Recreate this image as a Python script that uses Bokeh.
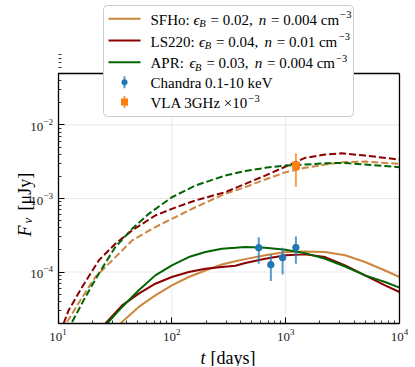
import math
from bokeh.plotting import figure
from bokeh.models import Range1d, FixedTicker, Label, BoxAnnotation
from bokeh.embed import file_html
from bokeh.resources import INLINE

# ---------------- data ----------------
# SFHo (orange): X-ray (solid) and radio x1e-3 (dashed)
t_sfho_x = [35.3, 51.2, 71.6, 100, 141, 197, 275, 361, 442, 661, 1000, 1480, 2220, 3330, 4980, 7460, 10000]
f_sfho_x = [2.0e-5, 3.36e-5, 4.83e-5, 6.61e-5, 8.57e-5, 1.05e-4, 1.27e-4, 1.40e-4, 1.50e-4, 1.69e-4,
            1.87e-4, 1.91e-4, 1.87e-4, 1.69e-4, 1.37e-4, 1.05e-4, 8.57e-5]
t_sfho_r = [12.0, 15.7, 21.3, 29.9, 44.8, 71.6, 100, 161, 294, 442, 661, 1000, 1480, 2220, 3110, 4980, 10000]
f_sfho_r = [2.10e-5, 4.13e-5, 8.57e-5, 1.44e-4, 2.69e-4, 4.08e-4, 5.30e-4, 7.6e-4, 1.16e-3, 1.43e-3,
            1.81e-3, 2.28e-3, 2.61e-3, 2.89e-3, 3.11e-3, 3.18e-3, 2.95e-3]

# LS220 (dark red)
t_ls_x = [26.1, 36.6, 51.2, 71.6, 100, 141, 197, 275, 361, 442, 661, 1000, 1480, 2220, 3330, 4980, 7460, 10000]
f_ls_x = [2.0e-5, 3.53e-5, 5.09e-5, 6.95e-5, 8.57e-5, 1.00e-4, 1.11e-4, 1.17e-4, 1.22e-4, 1.33e-4,
          1.52e-4, 1.69e-4, 1.74e-4, 1.60e-4, 1.23e-4, 9.02e-5, 6.61e-5, 5.36e-5]
t_ls_r = [11.2, 12.4, 16.3, 22.8, 31.9, 44.8, 71.6, 100, 161, 294, 442, 661, 1000, 1480, 2220, 3110, 4980, 10000]
f_ls_r = [2.0e-5, 3.02e-5, 6.27e-5, 1.44e-4, 2.43e-4, 3.68e-4, 5.88e-4, 7.24e-4, 9.40e-4, 1.22e-3,
          1.58e-3, 2.05e-3, 2.72e-3, 3.57e-3, 3.95e-3, 4.12e-3, 3.83e-3, 3.38e-3]

# APR (dark green)
t_apr_x = [27.0, 36.6, 51.2, 71.6, 100, 141, 197, 275, 361, 442, 661, 1000, 1480, 2220, 3330, 4980, 7460, 10000]
f_apr_x = [2.0e-5, 3.36e-5, 5.65e-5, 9.02e-5, 1.23e-4, 1.60e-4, 1.87e-4, 2.08e-4, 2.14e-4, 2.19e-4,
           2.14e-4, 2.01e-4, 1.81e-4, 1.52e-4, 1.19e-4, 9.02e-5, 7.33e-5, 6.14e-5]
t_apr_r = [13.3, 17.4, 22.8, 31.9, 44.8, 62.7, 100, 161, 294, 442, 661, 1000, 1480, 2220, 3110, 4980, 10000]
f_apr_r = [2.10e-5, 4.58e-5, 9.51e-5, 2.19e-4, 3.87e-4, 6.19e-4, 1.04e-3, 1.50e-3, 2.05e-3, 2.36e-3,
           2.61e-3, 2.81e-3, 2.89e-3, 3.01e-3, 3.05e-3, 2.89e-3, 2.66e-3]

# Observations
t_chandra = [580, 741, 940, 1230]
f_chandra = [2.14e-4, 1.26e-4, 1.57e-4, 2.16e-4]
lo_chandra = [1.30e-4, 7.55e-5, 9.3e-5, 1.30e-4]
hi_chandra = [2.98e-4, 1.74e-4, 2.14e-4, 3.05e-4]

t_vla = [1230]
f_vla = [2.8e-3]
lo_vla = [1.43e-3]
hi_vla = [4.12e-3]

# axis limits and ticks
X_MIN, X_MAX = 10, 1e4
Y_MIN, Y_MAX = 2e-5, 5e-2
x_ticks = [10, 100, 1000, 10000]
y_ticks = [1e-4, 1e-3, 1e-2]

C_SFHO = "#cd853f"
C_LS = "#8b0000"
C_APR = "#006400"
C_CH = "#1f77b4"
C_VLA = "#ff7f0e"
FONT = "Liberation Serif"

# ---------------- layout: the frame covers the whole canvas, the visible "axes box" sits inside ----------------
W, H = 414, 366
FL, FR, FT, FB = 57.5, 399.0, 73.0, 323.0   # visible axes box in canvas pixels
ppd_x = (FR - FL) / math.log10(X_MAX / X_MIN)
ppd_y = (FB - FT) / math.log10(Y_MAX / Y_MIN)
x_start = X_MIN / 10 ** (FL / ppd_x)
x_end = X_MAX * 10 ** ((W - FR) / ppd_x)
y_start = Y_MIN / 10 ** ((H - FB) / ppd_y)
y_end = Y_MAX * 10 ** (FT / ppd_y)

p = figure(width=W, height=H, x_axis_type="log", y_axis_type="log",
           x_range=Range1d(x_start, x_end), y_range=Range1d(y_start, y_end),
           output_backend="svg", toolbar_location=None,
           min_border_left=0, min_border_right=0, min_border_top=0, min_border_bottom=0)
p.background_fill_color = "white"
p.border_fill_color = "white"
p.outline_line_color = None
p.xgrid.visible = False
p.ygrid.visible = False

xa = p.xaxis[0]
ya = p.yaxis[0]
xa.fixed_location = Y_MIN
ya.fixed_location = X_MIN
xa.bounds = (X_MIN, X_MAX)
ya.bounds = (Y_MIN, Y_MAX)
xa.ticker = FixedTicker(ticks=x_ticks,
                        minor_ticks=[m * 10.0 ** e for e in range(1, 4) for m in range(2, 10)])
ya.ticker = FixedTicker(ticks=y_ticks,
                        minor_ticks=[m * 10.0 ** e for e in range(-5, -1) for m in range(2, 10)])
for ax in (xa, ya):
    ax.axis_line_color = "black"
    ax.axis_line_width = 1.3
    ax.major_tick_in = 6
    ax.major_tick_out = 0
    ax.minor_tick_in = 3
    ax.minor_tick_out = 0
    ax.major_tick_line_color = "black"
    ax.minor_tick_line_color = "black"
    ax.major_tick_line_width = 1
    ax.minor_tick_line_width = 0.8
    ax.major_label_text_font = FONT
    ax.major_label_text_font_size = "13px"
    ax.major_label_text_color = "#222222"
    ax.major_label_standoff = 5

# grid lines at the inner major ticks, limited to the axes box
gx = x_ticks[1:-1]
p.segment(x0=gx, y0=[Y_MIN] * len(gx), x1=gx, y1=[Y_MAX] * len(gx),
          line_color="#c8c8c8", line_width=0.8, line_dash="1 1")
p.segment(x0=[X_MIN] * len(y_ticks), y0=y_ticks, x1=[X_MAX] * len(y_ticks), y1=y_ticks,
          line_color="#c8c8c8", line_width=0.8, line_dash="1 1")

# ---------------- curves ----------------
LW = 2
DASH = "7 3"
p.line(t_sfho_x, f_sfho_x, color=C_SFHO, line_width=LW)
p.line(t_sfho_r, f_sfho_r, color=C_SFHO, line_width=LW, line_dash=DASH)
p.line(t_ls_x, f_ls_x, color=C_LS, line_width=LW)
p.line(t_ls_r, f_ls_r, color=C_LS, line_width=LW, line_dash=DASH)
p.line(t_apr_x, f_apr_x, color=C_APR, line_width=LW)
p.line(t_apr_r, f_apr_r, color=C_APR, line_width=LW, line_dash=DASH)

p.segment(x0=t_chandra, y0=lo_chandra, x1=t_chandra, y1=hi_chandra, color=C_CH, line_width=2, line_alpha=0.75)
p.scatter(t_chandra, f_chandra, marker="circle", size=6.5, color=C_CH)
p.segment(x0=t_vla, y0=lo_vla, x1=t_vla, y1=hi_vla, color=C_VLA, line_width=2, line_alpha=0.75)
p.scatter(t_vla, f_vla, marker="square", size=7, color=C_VLA)

# top and right spines of the axes box
p.segment(x0=[X_MIN, X_MAX], y0=[Y_MAX, Y_MIN], x1=[X_MAX, X_MAX], y1=[Y_MAX, Y_MAX],
          line_color="black", line_width=1.3)


# ---------------- hand-made legend & axis labels (canvas pixel positions) ----------------
def box(l, r, t, b, color, radius=0, line=None, alpha=1.0):
    p.add_layout(BoxAnnotation(left=l, right=r, top=H - t, bottom=H - b,
                               left_units="screen", right_units="screen",
                               top_units="screen", bottom_units="screen",
                               fill_color=color, fill_alpha=alpha,
                               line_color=line, line_alpha=1.0 if line else 0.0, line_width=1,
                               border_radius=radius, level="overlay"))


def lab(text, px, py, size=15, style="normal", angle=0.0, baseline="middle"):
    p.add_layout(Label(x=px, y=H - py, x_units="screen", y_units="screen", text=text,
                       text_font=FONT, text_font_size=f"{size}px", text_font_style=style,
                       text_align="left", text_baseline=baseline, angle=angle,
                       text_color="black", level="overlay"))


box(103, 353, 5, 116, "white", radius=4, line="#cccccc")

line_rows = [18.3, 40, 61.7]
model_rows = [
    (C_SFHO, [("SFHo:", 150), ("ϵ", 193.0), ("B", 198.7), ("= 0.02,", 210.0), ("n", 258.3),
              ("= 0.004 cm", 270.6), ("−3", 339.8)]),
    (C_LS, [("LS220:", 150), ("ϵ", 198.6), ("B", 204.3), ("= 0.04,", 215.6), ("n", 263.9),
            ("= 0.01 cm", 276.2), ("−3", 338.4)]),
    (C_APR, [("APR:", 150), ("ϵ", 188.9), ("B", 194.6), ("= 0.03,", 205.9), ("n", 254.2),
             ("= 0.004 cm", 266.5), ("−3", 335.7)]),
]
for (col, segs), ry in zip(model_rows, line_rows):
    box(108, 140, ry - 1, ry + 1, col)
    ty = ry + 1
    for i, (txt, px) in enumerate(segs):
        if i == 2:
            lab(txt, px, ty + 4, size=10.5, style="italic")
        elif i == 6:
            lab(txt, px, ty - 5, size=10.5)
        elif i in (1, 4):
            lab(txt, px, ty, style="italic")
        else:
            lab(txt, px, ty)

# Chandra entry
ry = 81.7
box(123, 125, ry - 6, ry + 6, C_CH, alpha=0.75)
box(121, 127, ry - 3, ry + 3, C_CH, radius=3)
lab("Chandra 0.1-10 keV", 150, ry + 1)
# VLA entry
ry = 101.5
box(123, 125, ry - 6, ry + 6, C_VLA, alpha=0.75)
box(120.5, 127.5, ry - 3.5, ry + 3.5, C_VLA)
lab("VLA 3GHz ×10", 150, ry + 1)
lab("−3", 248, ry - 4, size=10.5)

# axis labels
lab("t", 200, 357, size=18, style="italic", baseline="alphabetic")
lab("[days]", 210, 357, size=18, baseline="alphabetic")
lab("F", 24, 236, size=18, style="italic", angle=math.pi / 2, baseline="alphabetic")
lab("ν", 27, 223, size=13, style="italic", angle=math.pi / 2, baseline="alphabetic")
lab("[μJy]", 24, 210, size=18, angle=math.pi / 2, baseline="alphabetic")

open("out.html", "w").write(file_html(p, INLINE))
